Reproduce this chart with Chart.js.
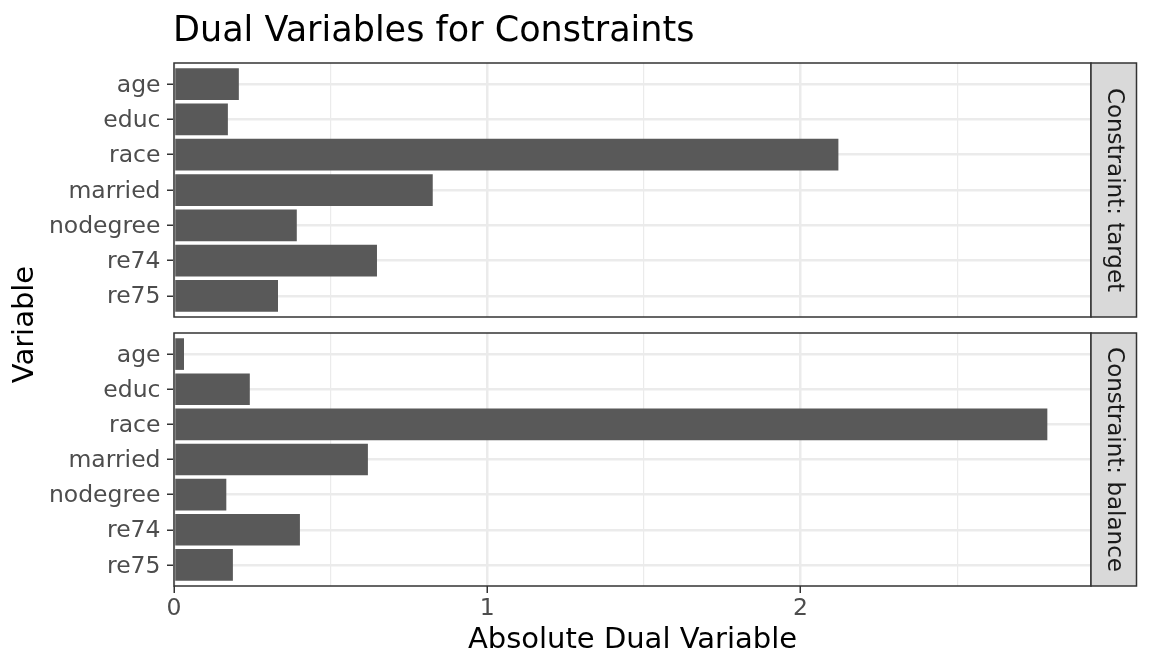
<!DOCTYPE html>
<html>
<head>
<meta charset="utf-8">
<title>Dual Variables for Constraints</title>
<script src="https://cdn.jsdelivr.net/npm/chart.js@4.4.1/dist/chart.umd.min.js"></script>
<style>
  html, body { margin: 0; padding: 0; background: #ffffff; }
  #wrap { position: relative; width: 1152px; height: 672px; }
  #wrap canvas { position: absolute; left: 0; top: 0; }
</style>
</head>
<body>
<div id="wrap">
  <canvas id="panelTarget" width="1152" height="672"></canvas>
  <canvas id="panelBalance" width="1152" height="672"></canvas>
</div>
<script>
const categories = ["age", "educ", "race", "married", "nodegree", "re74", "re75"];
const targetValues = [0.207, 0.172, 2.121, 0.826, 0.392, 0.648, 0.332];
const balanceValues = [0.032, 0.242, 2.788, 0.619, 0.167, 0.402, 0.188];
const xTickLabels = [0, 1, 2];
const xMinorBreaks = [0.5, 1.5, 2.5];
const facetLabels = ["Constraint: target", "Constraint: balance"];

Chart.defaults.font.family = "'DejaVu Sans', sans-serif";
Chart.defaults.animation = false;

// ggplot leaves 5% room past the longest bar, none below zero
const xMax = Math.max(...targetValues, ...balanceValues) * 1.05;

// panel frame + grey facet strip on the right
const facetPlugin = {
    id: "facet",
    afterDatasetsDraw(chart, args, opts) {
        const { ctx, chartArea: a } = chart;
        const h = a.bottom - a.top;
        const sw = 45.5;
        ctx.save();
        ctx.strokeStyle = "#333333";
        ctx.lineWidth = 1.5;
        ctx.strokeRect(a.left, a.top, a.right - a.left, h);
        ctx.fillStyle = "#D9D9D9";
        ctx.fillRect(a.right, a.top, sw, h);
        ctx.strokeRect(a.right, a.top, sw, h);
        ctx.translate(a.right + sw / 2, a.top + h / 2);
        ctx.rotate(Math.PI / 2);
        ctx.fillStyle = "#1A1A1A";
        ctx.font = "23px 'DejaVu Sans'";
        ctx.textAlign = "center";
        ctx.textBaseline = "middle";
        ctx.fillText(opts.label, 0, 0);
        ctx.restore();
    },
};

// plot title and the shared y axis title
const plotLabels = {
    id: "plotLabels",
    afterDraw(chart) {
        const ctx = chart.ctx;
        ctx.save();
        ctx.fillStyle = "#000000";
        ctx.font = "35px 'DejaVu Sans'";
        ctx.textAlign = "left";
        ctx.textBaseline = "alphabetic";
        ctx.fillText("Dual Variables for Constraints", 173, 41);
        ctx.font = "29px 'DejaVu Sans'";
        ctx.translate(33, 324.5);
        ctx.rotate(-Math.PI / 2);
        ctx.textAlign = "center";
        ctx.fillText("Variable", 0, 0);
        ctx.restore();
    },
};

function makePanel(id, values, label, isBottom) {
    return new Chart(document.getElementById(id), {
        type: "bar",
        data: {
            datasets: [
                {
                    data: values.map((v, i) => ({ x: v, y: i })),
                    backgroundColor: "#595959",
                    borderWidth: 0,
                    categoryPercentage: 0.9,
                    barPercentage: 1,
                },
            ],
        },
        plugins: isBottom ? [facetPlugin] : [facetPlugin, plotLabels],
        options: {
            responsive: false,
            indexAxis: "y",
            events: [],
            layout: {
                padding: { left: 0, right: 61, top: isBottom ? 333 : 63, bottom: isBottom ? 0 : 355 },
            },
            plugins: {
                legend: { display: false },
                tooltip: { enabled: false },
                facet: { label: label },
            },
            scales: {
                y: {
                    type: "linear",
                    reverse: true,
                    offset: false,
                    min: -0.6,
                    max: categories.length - 0.4,
                    afterBuildTicks: (s) => {
                        s.ticks = categories.map((c, i) => ({ value: i }));
                    },
                    afterFit: (s) => {
                        s.width = 174;
                    },
                    ticks: {
                        callback: (v) => categories[v],
                        color: "#4D4D4D",
                        font: { size: 23.5 },
                        padding: 6.5,
                        labelOffset: 1.5,
                        autoSkip: false,
                    },
                    grid: {
                        offset: false,
                        color: "#EBEBEB",
                        lineWidth: 2.5,
                        tickColor: "#333333",
                        tickWidth: 1.5,
                        tickLength: 7,
                    },
                    border: { display: false },
                },
                x: {
                    type: "linear",
                    min: 0,
                    max: xMax,
                    afterBuildTicks: (s) => {
                        s.ticks = xTickLabels
                            .concat(xMinorBreaks)
                            .sort((a, b) => a - b)
                            .map((v) => ({ value: v }));
                    },
                    afterFit: (s) => {
                        s.height = isBottom ? 86 : 0;
                    },
                    ticks: {
                        display: isBottom,
                        callback: (v) => (xTickLabels.includes(v) ? String(v) : ""),
                        color: "#4D4D4D",
                        font: { size: 23.5 },
                        padding: 2,
                        autoSkip: false,
                        maxRotation: 0,
                    },
                    grid: {
                        color: "#EBEBEB",
                        lineWidth: (c) => (c.tick && xTickLabels.includes(c.tick.value) ? 2.5 : 1.2),
                        drawTicks: isBottom,
                        tickColor: (c) => (c.tick && xTickLabels.includes(c.tick.value) ? "#333333" : "rgba(0,0,0,0)"),
                        tickWidth: 1.5,
                        tickLength: 7,
                    },
                    border: { display: false },
                    title: {
                        display: isBottom,
                        text: "Absolute Dual Variable",
                        color: "#000000",
                        font: { size: 29 },
                        padding: { top: 0, bottom: 14.6 },
                    },
                },
            },
        },
    });
}

makePanel("panelTarget", targetValues, facetLabels[0], false);
makePanel("panelBalance", balanceValues, facetLabels[1], true);
</script>
</body>
</html>
